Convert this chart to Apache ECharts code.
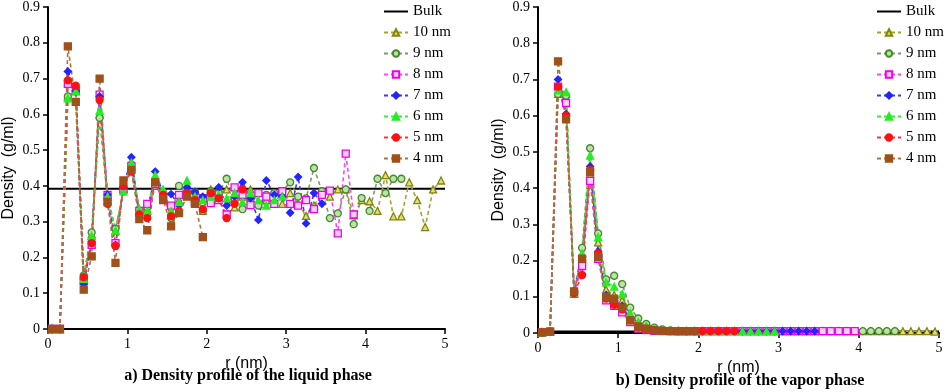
<!DOCTYPE html>
<html><head><meta charset="utf-8">
<script src="https://cdn.jsdelivr.net/npm/echarts@6/dist/echarts.min.js"></script>
<style>html,body{margin:0;padding:0;background:#fff}#c{width:948px;height:392px}</style>
</head><body><div id="c"></div><script>
// r positions (nm)
const R = [0.05,0.15,0.25,0.35,0.45,0.55,0.65,0.75,0.85,0.95,
           1.05,1.15,1.25,1.35,1.45,1.55,1.65,1.75,1.85,1.95,
           2.05,2.15,2.25,2.35,2.45,2.55,2.65,2.75,2.85,2.95,
           3.05,3.15,3.25,3.35,3.45,3.55,3.65,3.75,3.85,3.95,
           4.05,4.15,4.25,4.35,4.45,4.55,4.65,4.75,4.85,4.95];
const X_TICKS = [0,1,2,3,4,5];
const BULK_X = [0, 5];
const BULK_LIQ = [0.392, 0.392];
const BULK_VAP = [0.003, 0.003];

// Liquid phase densities
const L10 = [0,0,0.65,0.665,0.15,0.265,0.60,0.37,0.275,0.39,0.455,0.335,0.335,0.415,0.385,0.32,0.36,0.38,0.375,0.33,0.39,0.38,0.39,0.34,0.37,0.39,0.35,0.36,0.35,0.35,0.38,0.35,0.316,0.345,0.38,0.37,0.39,0.39,0.318,0.36,0.357,0.33,0.43,0.315,0.315,0.41,0.36,0.285,0.39,0.415];
const L9 = [0,0,0.65,0.665,0.15,0.27,0.59,0.365,0.28,0.385,0.46,0.33,0.34,0.40,0.38,0.31,0.40,0.38,0.383,0.33,0.385,0.38,0.42,0.36,0.335,0.365,0.345,0.375,0.38,0.385,0.41,0.37,0.365,0.45,0.385,0.31,0.323,0.39,0.293,0.366,0.33,0.42,0.38,0.42,0.42];
const L8 = [0,0,0.685,0.665,0.135,0.235,0.655,0.375,0.24,0.39,0.455,0.33,0.35,0.405,0.36,0.345,0.375,0.375,0.355,0.366,0.352,0.36,0.32,0.396,0.375,0.346,0.38,0.37,0.35,0.385,0.35,0.345,0.36,0.335,0.375,0.387,0.267,0.49,0.32];
const L7 = [0,0,0.72,0.665,0.125,0.25,0.65,0.375,0.235,0.395,0.48,0.32,0.32,0.44,0.38,0.377,0.345,0.396,0.383,0.37,0.375,0.396,0.345,0.37,0.41,0.366,0.305,0.415,0.375,0.37,0.325,0.425,0.295,0.38,0.35];
const L6 = [0,0,0.645,0.665,0.14,0.26,0.61,0.37,0.275,0.385,0.465,0.335,0.33,0.43,0.39,0.33,0.355,0.415,0.37,0.36,0.37,0.375,0.365,0.38,0.355,0.38,0.36,0.345,0.36,0.37];
const L5 = [0,0,0.695,0.68,0.145,0.24,0.64,0.35,0.232,0.40,0.44,0.32,0.31,0.41,0.375,0.315,0.33,0.38,0.36,0.335,0.38,0.365,0.31,0.35,0.39];
const L4 = [0,0,0.79,0.635,0.11,0.203,0.70,0.355,0.185,0.415,0.445,0.307,0.276,0.41,0.363,0.287,0.324,0.37,0.35,0.257];

// Vapor phase densities
const V10 = [0.002,0.004,0.66,0.66,0.11,0.21,0.44,0.25,0.12,0.105,0.09,0.05,0.025,0.015,0.01,0.007,0.006,0.005,0.005,0.005,0.005,0.005,0.005,0.005,0.005,0.005,0.005,0.005,0.005,0.005,0.005,0.005,0.005,0.005,0.005,0.005,0.005,0.005,0.005,0.005,0.005,0.005,0.005,0.005,0.005,0.005,0.005,0.005,0.005,0.004];
const V9 = [0.002,0.004,0.66,0.655,0.115,0.235,0.51,0.275,0.148,0.158,0.135,0.07,0.04,0.025,0.015,0.01,0.007,0.006,0.005,0.005,0.005,0.005,0.005,0.005,0.005,0.005,0.005,0.005,0.005,0.005,0.005,0.005,0.005,0.005,0.005,0.005,0.005,0.005,0.005,0.005,0.005,0.005,0.005,0.005,0.005];
const V8 = [0.002,0.004,0.68,0.635,0.108,0.185,0.42,0.205,0.09,0.075,0.057,0.03,0.012,0.008,0.006,0.005,0.005,0.005,0.005,0.005,0.005,0.005,0.005,0.005,0.005,0.005,0.005,0.005,0.005,0.005,0.005,0.005,0.005,0.005,0.005,0.005,0.005,0.005,0.005,0.005];
const V7 = [0.002,0.004,0.70,0.605,0.115,0.21,0.46,0.225,0.105,0.09,0.075,0.04,0.02,0.012,0.008,0.006,0.005,0.005,0.005,0.005,0.005,0.005,0.005,0.005,0.005,0.005,0.005,0.005,0.005,0.005,0.005,0.005,0.005,0.005,0.005];
const V6 = [0.002,0.004,0.67,0.665,0.11,0.22,0.49,0.265,0.14,0.128,0.108,0.055,0.03,0.02,0.012,0.008,0.006,0.005,0.005,0.005,0.005,0.005,0.005,0.005,0.005,0.005,0.005,0.005,0.005,0.005];
const V5 = [0.002,0.004,0.68,0.60,0.11,0.16,0.45,0.22,0.095,0.078,0.065,0.035,0.015,0.01,0.008,0.006,0.005,0.005,0.005,0.005,0.005,0.005,0.005,0.005,0.005];
const V4 = [0.002,0.004,0.75,0.59,0.115,0.205,0.445,0.21,0.10,0.095,0.07,0.035,0.018,0.012,0.008,0.006,0.005,0.005,0.005,0.005];

const NAMES = ['Bulk','10 nm','9 nm','8 nm','7 nm','6 nm','5 nm','4 nm'];
const STY = {
  '10 nm': {symbol:'triangle', line:'#a3a32e', fill:'#dede7a', border:'#85850a'},
  '9 nm':  {symbol:'circle',   line:'#7f9868', fill:'#bfe0a8', border:'#3f8a2a'},
  '8 nm':  {symbol:'rect',     line:'#ff44ff', fill:'#ffd0ff', border:'#ee00ee'},
  '7 nm':  {symbol:'diamond',  line:'#3b3bff', fill:'#2424ff', border:'#2424ff'},
  '6 nm':  {symbol:'triangle', line:'#33ee33', fill:'#22ee22', border:'#22ee22'},
  '5 nm':  {symbol:'circle',   line:'#ff3333', fill:'#ff1111', border:'#ff1111'},
  '4 nm':  {symbol:'rect',     line:'#b0703f', fill:'#a0501a', border:'#a0501a'}
};

function mk(name, vals, idx){
  const s = STY[name];
  return {
    type:'line', name, xAxisIndex:idx, yAxisIndex:idx,
    data: vals.map((v,i)=>[R[i], v]),
    symbol:s.symbol, symbolSize:7, showAllSymbol:true,
    lineStyle:{color:s.line, width:1.6, type:[4,3]},
    itemStyle:{color:s.fill, borderColor:s.border, borderWidth:1.3},
    emphasis:{disabled:true}, animation:false, z:3
  };
}
function bulk(vals, idx, w){
  return {type:'line', name:'Bulk', xAxisIndex:idx, yAxisIndex:idx,
    data: BULK_X.map((x,i)=>[x, vals[i]]), symbol:'none',
    lineStyle:{color:'#000', width:w}, itemStyle:{color:'#000'},
    emphasis:{disabled:true}, animation:false, z:2};
}

const serif = 'Liberation Serif';
const sans = 'Liberation Sans';
function yAx(idx){
  return {type:'value', gridIndex:idx, min:0, max:0.9, interval:0.1,
    name:'Density  (g/ml)', nameLocation:'middle', nameGap:31,
    nameTextStyle:{fontFamily:sans, fontSize:16, color:'#000'},
    axisLine:{show:true, lineStyle:{color:'#000', width:2}},
    axisTick:{show:true, length:5, lineStyle:{color:'#000', width:1.5}},
    splitLine:{show:false},
    axisLabel:{fontFamily:serif, fontSize:14, color:'#000', margin:8,
      formatter:v=>String(+v.toFixed(1))}};
}
function xAx(idx){
  return {type:'value', gridIndex:idx, min:X_TICKS[0], max:X_TICKS[X_TICKS.length-1], interval:1,
    name:'r (nm)', nameLocation:'middle', nameGap:19,
    nameTextStyle:{fontFamily:sans, fontSize:16, color:'#000'},
    axisLine:{show:true, onZero:false, lineStyle:{color:'#000', width:2}},
    axisTick:{show:true, length:5, lineStyle:{color:'#000', width:1.5}},
    splitLine:{show:false},
    axisLabel:{fontFamily:serif, fontSize:14, color:'#000', margin:8}};
}
function leg(left){
  return {orient:'vertical', left, top:4, padding:0, itemWidth:24, itemHeight:8, itemGap:6,
    textStyle:{fontFamily:serif, fontSize:15, color:'#000'},
    data:NAMES.map(n => n === 'Bulk' ? {name:n, itemStyle:{opacity:0}} : n),
    selectedMode:false};
}

const chart = echarts.init(document.getElementById('c'), null, {renderer:'canvas'});
chart.setOption({
  backgroundColor:'#fff',
  animation:false,
  grid:[{left:48, right:503, top:7, bottom:63},
        {left:538, right:9, top:7, bottom:59}],
  xAxis:[xAx(0), xAx(1)],
  yAxis:[yAx(0), yAx(1)],
  legend:[leg(383), leg(876)],
  graphic:[
    {type:'text', x:248, y:376, style:{text:'a) Density profile of the liquid phase',
      font:'bold 16px "Liberation Serif"', fill:'#000', align:'center', verticalAlign:'middle'}},
    {type:'text', x:740, y:381, style:{text:'b) Density profile of the vapor phase',
      font:'bold 16px "Liberation Serif"', fill:'#000', align:'center', verticalAlign:'middle'}}
  ],
  series:[
    bulk(BULK_LIQ,0,2),
    mk('10 nm',L10,0), mk('9 nm',L9,0), mk('8 nm',L8,0), mk('7 nm',L7,0),
    mk('6 nm',L6,0), mk('5 nm',L5,0), mk('4 nm',L4,0),
    bulk(BULK_VAP,1,3),
    mk('10 nm',V10,1), mk('9 nm',V9,1), mk('8 nm',V8,1), mk('7 nm',V7,1),
    mk('6 nm',V6,1), mk('5 nm',V5,1), mk('4 nm',V4,1)
  ]
});
</script></body></html>
